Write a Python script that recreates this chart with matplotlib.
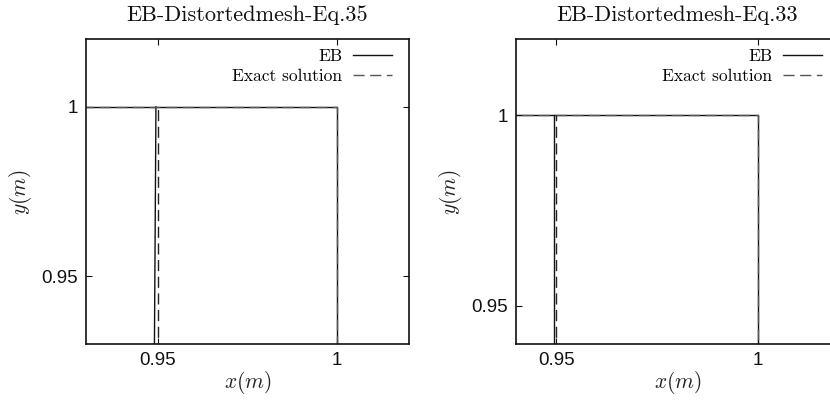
import numpy as np
import matplotlib
matplotlib.use("Agg")
import matplotlib.pyplot as plt

plt.rcParams["mathtext.fontset"] = "cm"

# Data: outline of the wet region (step boundary), two panels
# each curve = outer boundary (left edge -> corner -> down) + interface line
outer_x = [0.90, 1.00, 1.00]
outer_y = [1.00, 1.00, 0.90]

# Eq.35 panel
eb35_front_x = [0.9489, 0.9495]
eb35_front_y = [0.90, 1.00]
exact35_front_x = [0.9500, 0.9500]
exact35_front_y = [0.90, 1.00]

# Eq.33 panel
eb33_front_x = [0.9493, 0.9493]
eb33_front_y = [0.90, 1.00]
exact33_front_x = [0.9499, 0.9499]
exact33_front_y = [0.90, 1.00]

titles = ["EB-Distortedmesh-Eq.35", "EB-Distortedmesh-Eq.33"]
xlims = [(0.93, 1.02), (0.94, 1.02)]
ylims = [(0.93, 1.02), (0.94, 1.02)]
ticks = [0.95, 1.0]
tick_labels = ["0.95", "1"]

SERIF = "cmr10"
DASH = (8, 4)

fig = plt.figure(figsize=(8.3, 4.03), dpi=100)
axes = [fig.add_axes([0.1036, 0.1464, 0.389, 0.7568]),
        fig.add_axes([0.6217, 0.1464, 0.389, 0.7568])]

panels = [(eb35_front_x, eb35_front_y, exact35_front_x, exact35_front_y),
          (eb33_front_x, eb33_front_y, exact33_front_x, exact33_front_y)]

for ax, title, xl, yl, (ebx, eby, exx, exy) in zip(axes, titles, xlims, ylims, panels):
    ax.plot(outer_x, outer_y, color="#111111", lw=1.0, label="EB")
    ax.plot(ebx, eby, color="#111111", lw=1.0)
    ax.plot(outer_x, outer_y, color="#555555", lw=1.0, dashes=DASH,
            label="Exact solution")
    ax.plot(exx, exy, color="#222222", lw=1.0, dashes=DASH)

    ax.set_xlim(*xl)
    ax.set_ylim(*yl)
    ax.set_xticks(ticks)
    ax.set_xticklabels(tick_labels)
    ax.set_yticks(ticks)
    ax.set_yticklabels(tick_labels)
    ax.tick_params(direction="in", length=4, width=0.8, top=True, right=True,
                   labelsize=13.5, pad=6, colors="#111111")
    for lab in ax.get_xticklabels() + ax.get_yticklabels():
        lab.set_fontfamily("Liberation Sans")
    for sp in ax.spines.values():
        sp.set_linewidth(1.2)
        sp.set_color("#111111")

    ax.set_title(title, fontfamily=SERIF, fontsize=16, pad=13, color="#111111")
    ax.set_xlabel(r"$x(m)$", fontsize=15.5, labelpad=0, color="#222222")
    ax.set_ylabel(r"$y(m)$", fontsize=15.5, labelpad=5, color="#222222")

    ax.legend(loc="upper right", bbox_to_anchor=(0.947, 0.967), frameon=False,
              markerfirst=False, prop={"family": SERIF, "size": 12.5},
              handlelength=2.25, handletextpad=0.6, borderaxespad=0,
              borderpad=0, labelspacing=0.25)

fig.savefig("out.png", dpi=100, facecolor="white")
